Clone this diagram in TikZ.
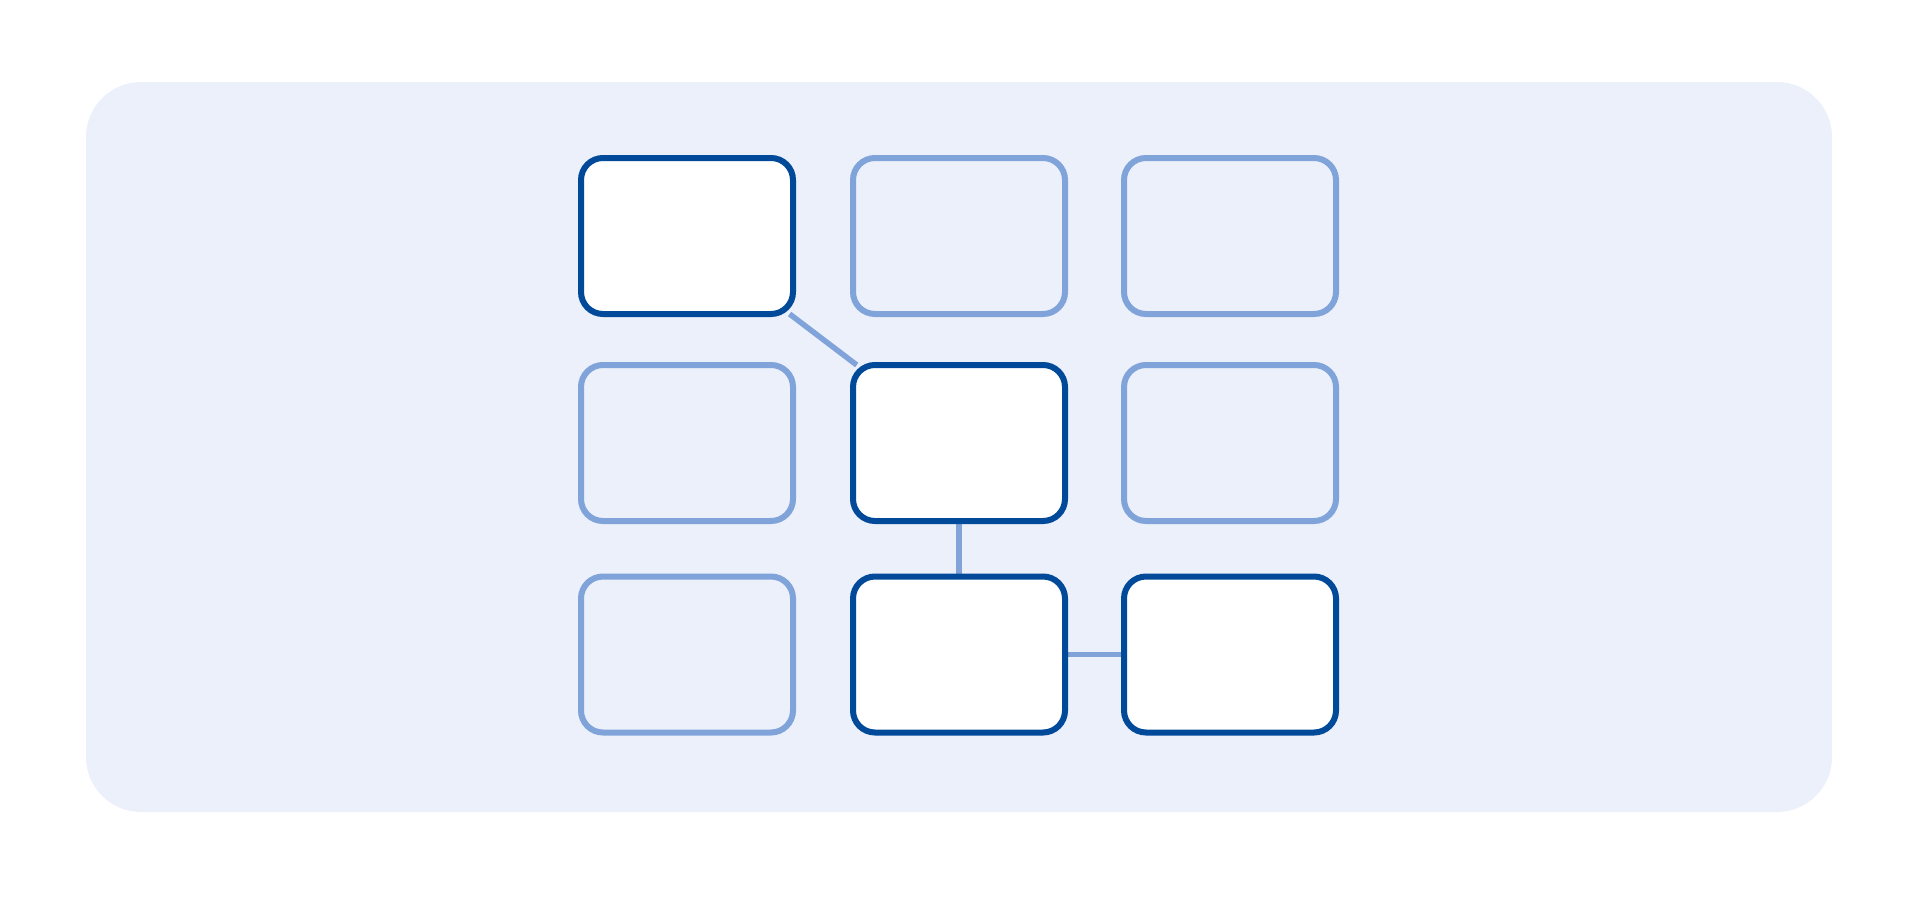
\documentclass[tikz,border=0pt]{standalone}
\usetikzlibrary{backgrounds}
\definecolor{panelfill}{HTML}{EBF0FA}
\definecolor{darkedge}{HTML}{004A99}
\definecolor{lightedge}{HTML}{80A4DA}
\begin{document}
\begin{tikzpicture}[x=1pt,y=-1pt,
  cell/.style={draw, line width=6pt, rounded corners=22pt, minimum width=212pt, minimum height=156pt, inner sep=0pt, outer sep=0pt},
  active/.style={cell, draw=darkedge, fill=white},
  idle/.style={cell, draw=lightedge, fill=none},
  link/.style={draw=lightedge, line width=5.5pt}]
\useasboundingbox (0,0) rectangle (1918,897);
\node[active] (a) at (687,236) {};
\node[idle]   (b) at (959,236) {};
\node[idle]   (c) at (1230,236) {};
\node[idle]   (d) at (687,443) {};
\node[active] (e) at (959,443) {};
\node[idle]   (f) at (1230,443) {};
\node[idle]   (g) at (687,654.5) {};
\node[active] (h) at (959,654.5) {};
\node[active] (i) at (1230,654.5) {};
\begin{scope}[on background layer]
  \fill[panelfill, rounded corners=55pt] (86,82) rectangle (1832,812);
  \draw[link] (a) -- (e);
  \draw[link] (e) -- (h);
  \draw[link] (h) -- (i);
\end{scope}
\end{tikzpicture}
\end{document}
